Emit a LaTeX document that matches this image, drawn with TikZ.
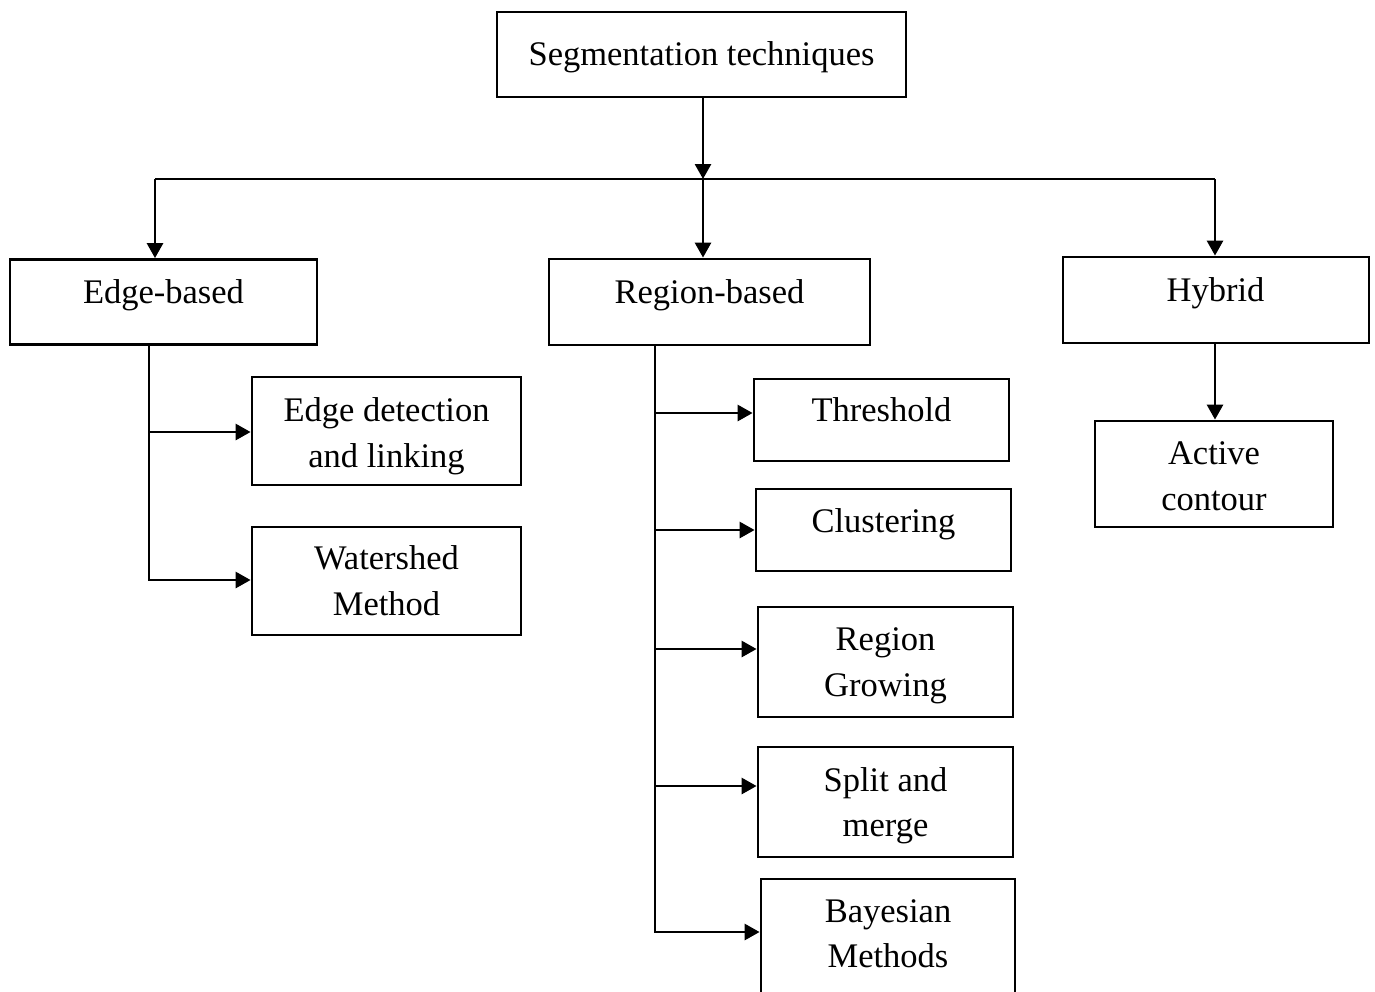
\documentclass[tikz,border=0pt]{standalone}
\usepackage{fontspec}
\setmainfont{Liberation Serif}
\usetikzlibrary{arrows.meta}
\begin{document}
\begin{tikzpicture}[x=1pt,y=-1pt,
  box/.style={draw, line width=2.8pt, inner sep=0pt, rectangle},
  txt/.style={inner sep=0pt, anchor=north, align=center,
    font=\fontsize{34.5}{45.5}\selectfont},
  conn/.style={line width=2.8pt},
  arr/.style={conn, -{Triangle[length=15pt,width=16pt]}}]
\useasboundingbox (0,0) rectangle (1375,991);
\clip (0,0) rectangle (1375,991);
% boxes
\node[box, minimum width=409pt, minimum height=85pt] (seg) at (701.5,54.5) {};
\node[box, minimum width=307pt, minimum height=85pt] (edge) at (163.5,302) {};
\node[box, minimum width=321pt, minimum height=86pt] (region) at (709.5,302) {};
\node[box, minimum width=306pt, minimum height=86pt] (hybrid) at (1216,300) {};
\node[box, minimum width=269pt, minimum height=108pt] (edl) at (386.5,431) {};
\node[box, minimum width=269pt, minimum height=108pt] (ws) at (386.5,581) {};
\node[box, minimum width=255pt, minimum height=82pt] (thr) at (881.5,420) {};
\node[box, minimum width=255pt, minimum height=82pt] (clu) at (883.5,530) {};
\node[box, minimum width=255pt, minimum height=110pt] (rg) at (885.5,662) {};
\node[box, minimum width=255pt, minimum height=110pt] (sm) at (885.5,802) {};
\node[box, minimum width=254pt, minimum height=131pt] (bay) at (888,944.5) {};
\node[box, minimum width=238pt, minimum height=106pt] (ac) at (1214,474) {};
% texts
\node[txt] (tseg) at (701.5,41.5) {Segmentation techniques};
\node[txt] (tedge) at (163.5,279.5) {Edge-based};
\node[txt] (tregion) at (709.5,279) {Region-based};
\node[txt] (thybrid) at (1215.5,277.5) {Hybrid};
\node[txt] (tedl) at (386.5,397.5) {Edge detection\\and linking};
\node[txt] (tws) at (386.5,545.5) {Watershed\\Method};
\node[txt] (tthr) at (881.5,397.5) {Threshold};
\node[txt] (tclu) at (883.5,508.5) {Clustering};
\node[txt] (trg) at (885.5,627.5) {Region\\Growing};
\node[txt] (tsm) at (885.5,767) {Split and\\merge};
\node[txt] (tbay) at (888,899) {Bayesian\\Methods};
\node[txt] (tac) at (1214,441.5) {Active\\contour};
% junctions
\coordinate (j) at (703,179);
\coordinate (jl) at (155,179);
\coordinate (jr) at (1215,179);
\coordinate (e1) at (149,432);
\coordinate (e2) at (149,580);
\coordinate (r1) at (655,413);
\coordinate (r2) at (655,530);
\coordinate (r3) at (655,649);
\coordinate (r4) at (655,786);
\coordinate (r5) at (655,932);
% connectors
\draw[arr] (seg.south -| j) -- (j);
\draw[conn] (jl) -- (jr);
\draw[arr] (jl) -- (edge.north -| jl);
\draw[arr] (j) -- (region.north -| j);
\draw[arr] (jr) -- (hybrid.north -| jr);
\draw[arr] (edge.south -| e2) -- (e2) -- (ws.west |- e2);
\draw[arr] (e1) -- (edl.west |- e1);
\draw[arr] (region.south -| r5) -- (r5) -- (bay.west |- r5);
\draw[arr] (r1) -- (thr.west |- r1);
\draw[arr] (r2) -- (clu.west |- r2);
\draw[arr] (r3) -- (rg.west |- r3);
\draw[arr] (r4) -- (sm.west |- r4);
\draw[arr] (hybrid.south -| jr) -- (ac.north -| jr);
\end{tikzpicture}
\end{document}
